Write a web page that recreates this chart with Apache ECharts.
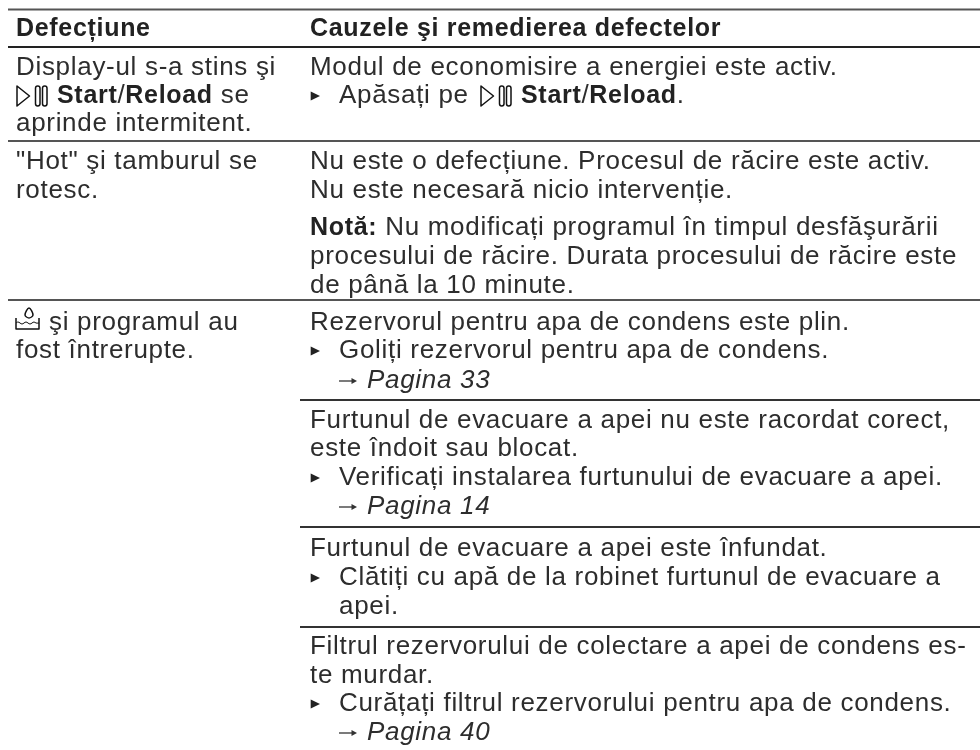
<!DOCTYPE html>
<html><head><meta charset="utf-8"><style>html,body{margin:0;background:#fff}#c{width:980px;height:750px}</style>
<script>
// Tracking of the original typesetting: applied to every 2d canvas context
(function(){const orig=HTMLCanvasElement.prototype.getContext;
HTMLCanvasElement.prototype.getContext=function(t,o){const c=orig.call(this,t,o);if(t==='2d'&&c&&'letterSpacing' in c){c.letterSpacing='0.69px';}return c;};})();
</script>
<script src="https://cdn.jsdelivr.net/npm/echarts@6/dist/echarts.min.js"></script></head>
<body><div id="c"></div><script>
const headers = ["Defecțiune", "Cauzele şi remedierea defectelor"];
const leftLines = [
  "Display-ul s-a stins şi",
  "{b|Start}/{b|Reload} se",
  "aprinde intermitent.",
  '"Hot" şi tamburul se',
  "rotesc.",
  "şi programul au",
  "fost întrerupte."
];
const rightLines = [
  "Modul de economisire a energiei este activ.",
  "Apăsați pe",
  "Nu este o defecțiune. Procesul de răcire este activ.",
  "Nu este necesară nicio intervenție.",
  "{b|Notă:} Nu modificați programul în timpul desfăşurării",
  "procesului de răcire. Durata procesului de răcire este",
  "de până la 10 minute.",
  "Rezervorul pentru apa de condens este plin.",
  "Goliți rezervorul pentru apa de condens.",
  "{i|Pagina 33}",
  "Furtunul de evacuare a apei nu este racordat corect,",
  "este îndoit sau blocat.",
  "Verificați instalarea furtunului de evacuare a apei.",
  "{i|Pagina 14}",
  "Furtunul de evacuare a apei este înfundat.",
  "Clătiți cu apă de la robinet furtunul de evacuare a",
  "apei.",
  "Filtrul rezervorului de colectare a apei de condens es-",
  "te murdar.",
  "Curățați filtrul rezervorului pentru apa de condens.",
  "{i|Pagina 40}"
];
const startReload = "{b|Start}/{b|Reload}.";
// layout
const leftY = [68,96,124,162,191,323,351];
const rightY = [68,96,162,191,228,257,286,323,351,381,421,449,478,507,549,578,607,647,676,704,733];
const bulletLines = [1,8,12,15,19];
const arrowLines = [9,13,20];
const indentLines = [16];
const fullRules = [[9.5,2,'#555'],[47,2.2,'#222'],[141,2,'#555'],[300,2,'#555']];
const rightRules = [400,527,627];
const FS = 26, FB = 25, col = '#2d2d2d', LX = 16, RX = 310, END = 980, MID = 300;
const rich = {
  b:{font:`bold ${FB}px "Liberation Sans"`,fill:'#222'},
  i:{font:`italic ${FS}px "Liberation Sans"`,fill:col}
};
const g = [];
const icon = {fill:'none',stroke:'#111',lineWidth:1.5,lineJoin:'round'};
function txt(x,y,t,bold){g.push({type:'text',x,y,silent:true,style:{text:t,font:bold?`bold ${FB}px "Liberation Sans"`:`${FS}px "Liberation Sans"`,fill:bold?'#222':col,verticalAlign:'middle',rich}});}
function ppIcon(x,y){
  g.push({type:'polygon',silent:true,shape:{points:[[x+1,y-10],[x+13.5,y],[x+1,y+10]]},style:icon});
  [19.5,26.5].forEach(d=>g.push({type:'rect',silent:true,shape:{x:x+d,y:y-10,width:4.5,height:20,r:2.2},style:icon}));
}
function tubIcon(x,y){
  g.push({type:'polyline',silent:true,shape:{points:[[x,y-5],[x,y+6],[x+23,y+6],[x+23,y-5]]},style:icon});
  g.push({type:'polyline',silent:true,shape:{smooth:0.5,points:[[x,y],[x+2,y-1],[x+4,y],[x+6,y+1],[x+8,y],[x+10,y-1],[x+12,y],[x+14,y+1],[x+16,y],[x+18,y-1],[x+20,y],[x+23,y]]},style:{...icon,lineWidth:1}});
  g.push({type:'polygon',silent:true,shape:{smooth:0.35,points:[[x+13,y-15],[x+17,y-8],[x+13,y-5],[x+9,y-8]]},style:icon});
}
function bullet(x,y){g.push({type:'polygon',silent:true,shape:{points:[[x+0.7,y-4.5],[x+10,y],[x+0.7,y+4.5]]},style:{fill:'#222'}});}
function arrow(x,y){
  g.push({type:'line',silent:true,shape:{x1:x,y1:y,x2:x+16,y2:y},style:{stroke:'#333',lineWidth:1.3}});
  g.push({type:'polygon',silent:true,shape:{points:[[x+12.5,y-3],[x+18,y],[x+12.5,y+3]]},style:{fill:'#333'}});
}
txt(LX,29.5,headers[0],true);txt(RX,29.5,headers[1],true);
leftLines.forEach((s,i)=>{
  const y=leftY[i];
  if(i===1){ppIcon(LX,y);txt(LX+41,y,s);}
  else if(i===5){tubIcon(LX,y);txt(LX+33,y,s);}
  else txt(LX,y,s);
});
rightLines.forEach((s,i)=>{
  const y=rightY[i];let x=RX;
  if(bulletLines.includes(i)){bullet(RX,y);x=RX+29;}
  else if(indentLines.includes(i)){x=RX+29;}
  else if(arrowLines.includes(i)){arrow(RX+29,y);x=RX+57;}
  txt(x,y,s);
  if(i===1){ppIcon(RX+170,y);txt(RX+211,y,startReload);}
});
fullRules.forEach(([y,w,c])=>g.push({type:'line',silent:true,shape:{x1:8,y1:y,x2:END,y2:y},style:{stroke:c,lineWidth:w}}));
rightRules.forEach(y=>g.push({type:'line',silent:true,shape:{x1:MID,y1:y,x2:END,y2:y},style:{stroke:'#333',lineWidth:2}}));
const chart = echarts.init(document.getElementById('c'));
chart.setOption({backgroundColor:'#fff',animation:false,graphic:{elements:g}});
</script></body></html>
